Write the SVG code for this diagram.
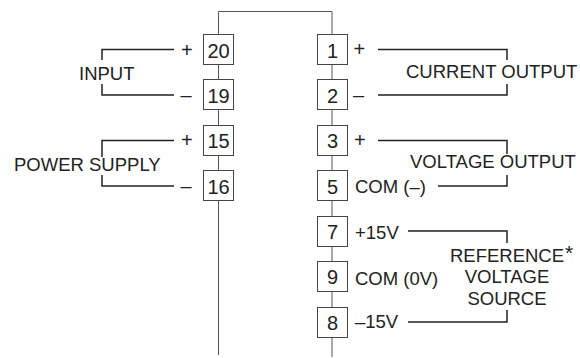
<svg xmlns="http://www.w3.org/2000/svg" width="580" height="358" viewBox="0 0 580 358">
<style>
.bus{fill:none;stroke:#555;stroke-width:1}
.w{fill:none;stroke:#222;stroke-width:1.5}
.b{fill:#fff;stroke:#444;stroke-width:1}
text{font-family:"Liberation Sans",Arial,sans-serif;fill:#222;font-size:18.5px}
.n{font-size:20px;text-anchor:middle}
.s{font-size:20px}
.m{text-anchor:middle}
</style>
<g id="connectors">
<path class="bus" d="M218.5 355V11.5H332V357"/>
<path class="w" d="M174 49.5H102V60M102 84V95H174M174 140.5H102V157M102 175V186H174"/>
<path class="w" d="M378 49.5H507V60M507 84V95H378M378 140.5H507V154M507 175V186H438M408 231H507V243M507 310V322H408"/>
</g>
<g id="n20"><rect class="b" x="203.5" y="34.5" width="30" height="30"/><text class="n" x="218.5" y="57.5">20</text></g>
<g id="n19"><rect class="b" x="203.5" y="79.5" width="30" height="30"/><text class="n" x="218.5" y="103">19</text></g>
<g id="n15"><rect class="b" x="203.5" y="125.5" width="30" height="30"/><text class="n" x="218.5" y="148">15</text></g>
<g id="n16"><rect class="b" x="203.5" y="170.5" width="30" height="30"/><text class="n" x="218.5" y="193.5">16</text></g>
<g id="n1"><rect class="b" x="317.5" y="34.5" width="30" height="30"/><text class="n" x="332.5" y="57.5">1</text></g>
<g id="n2"><rect class="b" x="317.5" y="79.5" width="30" height="30"/><text class="n" x="332.5" y="102.5">2</text></g>
<g id="n3"><rect class="b" x="317.5" y="125.5" width="30" height="30"/><text class="n" x="332.5" y="148">3</text></g>
<g id="n5"><rect class="b" x="317.5" y="170.5" width="30" height="30"/><text class="n" x="332.5" y="193.5">5</text></g>
<g id="n7"><rect class="b" x="317.5" y="216.5" width="30" height="30"/><text class="n" x="332.5" y="239">7</text></g>
<g id="n9"><rect class="b" x="317.5" y="261.5" width="30" height="30"/><text class="n" x="332.5" y="284">9</text></g>
<g id="n8"><rect class="b" x="317.5" y="307.5" width="30" height="30"/><text class="n" x="332.5" y="329.5">8</text></g>
<g id="labels">
<text class="s" x="181" y="57">+</text><text class="s" x="180.5" y="102">–</text><text class="s" x="181" y="147">+</text><text class="s" x="180.5" y="193">–</text>
<text x="79" y="80">INPUT</text>
<text x="14" y="171">POWER SUPPLY</text>
<text class="s" x="353.500" y="56">+</text><text class="s" x="353" y="102">–</text><text class="s" x="354" y="147">+</text>
<text x="355" y="193">COM (–)</text>
<text x="355" y="239">+15V</text>
<text x="355" y="285">COM (0V)</text>
<text x="355" y="328">–15V</text>
<text x="406" y="78">CURRENT OUTPUT</text>
<text x="410" y="168">VOLTAGE OUTPUT</text>
<text class="m" x="507" y="262">REFERENCE</text>
<text x="565" y="260" style="font-size:21px">*</text>
<text class="m" x="507" y="283">VOLTAGE</text>
<text class="m" x="507" y="305">SOURCE</text>
</g>
</svg>
